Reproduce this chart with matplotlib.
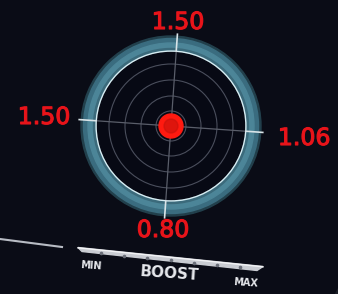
import matplotlib.pyplot as plt
import numpy as np
from matplotlib.patches import Circle, Polygon
import matplotlib.patheffects as pe

# gauge readings (top, left, right, bottom)
label_text = ['1.50', '1.50', '1.06', '0.80']
label_pos = [(178, 22), (44, 117), (304, 138), (163, 230)]
grid_radii = [15, 30, 46, 62]
scale_labels = ['MIN', 'BOOST', 'MAX']
scale_pos = [(91, 266), (169, 274), (246, 283)]
n_scale_ticks = 7

bg = '#0a0c16'
red = '#e8141a'
cx, cy = 171, 126
tilt = np.deg2rad(4)

fig = plt.figure(figsize=(3.38, 2.94), dpi=100)
fig.patch.set_facecolor(bg)
ax = fig.add_axes([0, 0, 1, 1])
ax.set_xlim(0, 338)
ax.set_ylim(294, 0)
ax.set_aspect('auto')
ax.axis('off')
ax.set_facecolor(bg)

# faint lighter corner bottom right
ax.add_patch(Circle((430, 340), 105, color='#1c1f28', zorder=0))

# outer ring
ax.add_patch(Circle((cx, cy), 90, color='#22404c', zorder=1))
ax.add_patch(Circle((cx, cy), 87.5, color='#3a6c7f', zorder=1))
ax.add_patch(Circle((cx, cy), 83, color='#4c8598', zorder=1))
ax.add_patch(Circle((cx, cy), 77.5, color='#3b6a7b', zorder=1))
ax.add_patch(Circle((cx, cy), 74.5, fill=False, ec='#d6edf3', lw=1.6, zorder=2))
ax.add_patch(Circle((cx, cy), 73.5, color='#070914', zorder=2))

for r in grid_radii:
    ax.add_patch(Circle((cx, cy), r, fill=False, ec='#4a4e5c', lw=0.8, zorder=3))

# crosshair, slightly rotated
for ang in [0, np.pi / 2]:
    a = ang + tilt
    dx, dy = np.cos(a), np.sin(a)
    ax.plot([cx - 74 * dx, cx + 74 * dx], [cy - 74 * dy, cy + 74 * dy],
            color='#5a5e6a', lw=0.9, zorder=3)
    ax.plot([cx - 92 * dx, cx - 75 * dx], [cy - 92 * dy, cy - 75 * dy],
            color='#d8e4e8', lw=1.2, zorder=4)
    ax.plot([cx + 75 * dx, cx + 92 * dx], [cy + 75 * dy, cy + 92 * dy],
            color='#d8e4e8', lw=1.2, zorder=4)

ax.add_patch(Circle((cx, cy), 12, color='#ff1a10', zorder=5))
ax.add_patch(Circle((cx, cy), 7, color='#c8120c', zorder=5, alpha=0.6))

for t, (x, y) in zip(label_text, label_pos):
    ax.text(x, y, t, color=red, fontsize=17, ha='center', va='center',
            fontfamily='DejaVu Sans', zorder=6,
            path_effects=[pe.withStroke(linewidth=0.8, foreground=red)])

# left line
ax.plot([0, 62], [239, 247], color='#b8bcc4', lw=1.5, zorder=3)

# boost scale bar
x0, y0, x1, y1 = 78, 249, 263, 268
ax.add_patch(Polygon([(x0, y0 - 1.5), (x1, y1 - 1.5), (x1 - 6, y1 + 2.5), (x0 + 4, y0 + 2.5)],
                     closed=True, color='#c9ccd2', zorder=3))
ax.plot([x0, x1], [y0 - 1.2, y1 - 1.2], color='#f2f3f5', lw=1.0, zorder=4)
for f in np.linspace(0, 1, n_scale_ticks + 2)[1:-1]:
    ax.plot(x0 + f * (x1 - x0), y0 + f * (y1 - y0) + 1.8, 'o', ms=1.6,
            color='#6a6e78', zorder=5)

sizes = [7, 11, 7]
for t, (x, y), s in zip(scale_labels, scale_pos, sizes):
    ax.text(x, y, t, color='#e6e8ec', fontsize=s, fontweight='bold',
            ha='center', va='center', rotation=-4, zorder=6)

fig.savefig('out.png', dpi=100, facecolor=bg)
